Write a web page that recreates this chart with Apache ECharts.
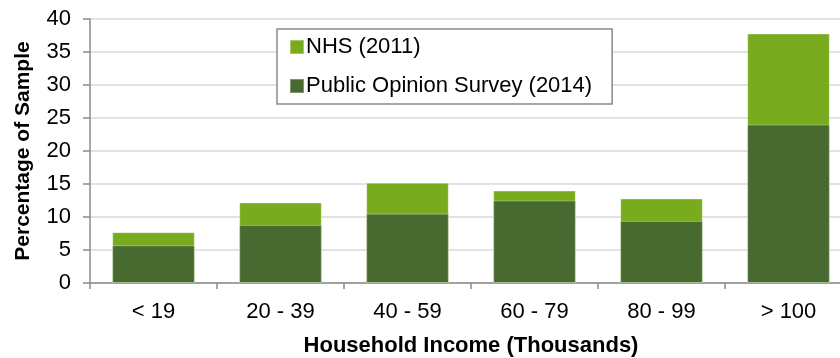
<!DOCTYPE html>
<html>
<head>
<meta charset="utf-8">
<script src="https://cdn.jsdelivr.net/npm/echarts@6/dist/echarts.min.js"></script>
<style>
  html, body { margin: 0; padding: 0; background: #fff; }
  #chart { width: 840px; height: 358px; }
</style>
</head>
<body>
<div id="chart"></div>
<script>
// Income brackets (thousands of dollars)
const categories = ['< 19', '20 - 39', '40 - 59', '60 - 79', '80 - 99', '> 100'];
// Share of sample per bracket, percent
const nhs2011 = [7.7, 12.2, 15.2, 14.0, 12.8, 37.8];
const survey2014 = [5.7, 8.8, 10.5, 12.5, 9.4, 24.0];
const yTicks = { min: 0, max: 40, interval: 5 };

const font = 'Liberation Sans, Arial, sans-serif';
const chart = echarts.init(document.getElementById('chart'), null, { renderer: 'canvas' });

chart.setOption({
  animation: false,
  backgroundColor: '#ffffff',
  grid: { left: 90, top: 19, width: 762, bottom: 75, containLabel: false, outerBoundsMode: 'none' },
  legend: {
    orient: 'vertical',
    left: 277,
    top: 29,
    padding: [7, 20, 7, 12],
    itemGap: 17,
    itemWidth: 14,
    itemHeight: 14,
    icon: 'rect',
    backgroundColor: '#ffffff',
    borderColor: '#8a8a8a',
    borderWidth: 1.5,
    textStyle: { fontFamily: font, fontSize: 22, color: '#000', padding: [0, 0, 0, -3] },
    data: ['NHS (2011)', 'Public Opinion Survey (2014)']
  },
  xAxis: {
    type: 'category',
    data: categories,
    name: 'Household Income (Thousands)',
    nameLocation: 'middle',
    nameGap: 52,
    nameTextStyle: { fontFamily: font, fontSize: 22, fontWeight: 'bold', color: '#000' },
    axisLine: { lineStyle: { color: '#8c8c8c', width: 1.5 } },
    axisTick: { show: true, length: 6, lineStyle: { color: '#8c8c8c', width: 1.5 } },
    axisLabel: { fontFamily: font, fontSize: 22, color: '#000', margin: 18 }
  },
  yAxis: {
    type: 'value',
    min: yTicks.min,
    max: yTicks.max,
    interval: yTicks.interval,
    name: 'Percentage of Sample',
    nameLocation: 'middle',
    nameGap: 56,
    nameTextStyle: { fontFamily: font, fontSize: 21, fontWeight: 'bold', color: '#000' },
    axisLine: { show: true, lineStyle: { color: '#8c8c8c', width: 1.5 } },
    axisTick: { show: true, length: 7, lineStyle: { color: '#8c8c8c', width: 1.5 } },
    axisLabel: { fontFamily: font, fontSize: 22, color: '#000', margin: 19 },
    splitLine: { lineStyle: { color: '#d9d9d9', width: 1.5 } }
  },
  series: [
    {
      name: 'NHS (2011)',
      type: 'bar',
      data: nhs2011,
      barWidth: '65%',
      barGap: '-100%',
      itemStyle: { color: '#78ab1e', borderColor: 'rgba(255,255,255,0.35)', borderWidth: 1 }
    },
    {
      name: 'Public Opinion Survey (2014)',
      type: 'bar',
      data: survey2014,
      barWidth: '65%',
      barGap: '-100%',
      itemStyle: { color: '#486a31', borderColor: 'rgba(255,255,255,0.3)', borderWidth: 1 }
    }
  ]
});
</script>
</body>
</html>
